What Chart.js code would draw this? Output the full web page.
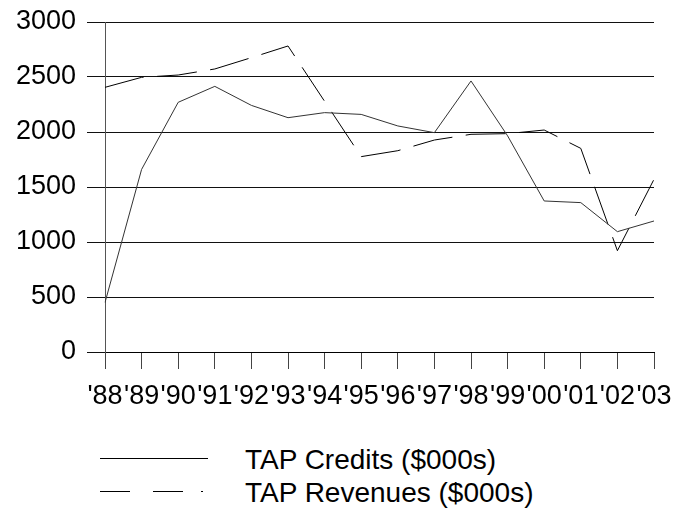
<!DOCTYPE html>
<html>
<head>
<meta charset="utf-8">
<script src="https://cdn.jsdelivr.net/npm/chart.js@4/dist/chart.umd.min.js"></script>
<style>
  html, body { margin: 0; padding: 0; background: #fff; }
  #wrap { position: relative; width: 675px; height: 513px; overflow: hidden; background: #fff; }
  #c { position: absolute; left: 0; top: 0; }
  .leg { position: absolute; left: 0; width: 675px; height: 30px; font-family: "Liberation Sans", Arial, sans-serif; font-size: 28px; line-height: 28px; color: #000; }
  .leg svg { position: absolute; left: 0; top: 0; }
  .leg span { position: absolute; left: 245px; top: 0; white-space: nowrap; }
</style>
</head>
<body>
<div id="wrap">
  <canvas id="c" width="675" height="420"></canvas>
  <div class="leg" style="top:446px">
    <svg width="675" height="30"><line x1="100" y1="12.5" x2="208" y2="12.5" stroke="#000" stroke-width="1"/></svg>
    <span id="lab0"></span>
  </div>
  <div class="leg" style="top:479px">
    <svg width="675" height="30"><line x1="100" y1="12.5" x2="203" y2="12.5" stroke="#000" stroke-width="1" stroke-dasharray="30 23 30 18 2 100"/></svg>
    <span id="lab1"></span>
  </div>
</div>
<script>
const years = ["'88","'89","'90","'91","'92","'93","'94","'95","'96","'97","'98","'99","'00","'01","'02","'03"];
const tapCredits = [450, 1660, 2270, 2415, 2242, 2130, 2176, 2160, 2055, 1994, 2464, 1965, 1373, 1358, 1094, 1191];
const tapRevenues = [2406, 2497, 2518, 2573, 2676, 2782, 2279, 1776, 1830, 1927, 1979, 1985, 2018, 1851, 921, 1570];
const seriesNames = ["TAP Credits ($000s)", "TAP Revenues ($000s)"];
const yMin = 0, yMax = 3000, yStep = 500;

document.getElementById('lab0').textContent = seriesNames[0];
document.getElementById('lab1').textContent = seriesNames[1];

const tickFont = { family: "'Liberation Sans', Arial, sans-serif", size: 27 };

new Chart(document.getElementById('c'), {
  type: 'line',
  data: {
    labels: years,
    datasets: [
      { label: seriesNames[0], data: tapCredits, borderColor: '#333', borderWidth: 1, pointRadius: 0, tension: 0, fill: false },
      { label: seriesNames[1], data: tapRevenues, borderColor: '#000', borderWidth: 1, borderDash: [40, 13.5], pointRadius: 0, tension: 0, fill: false }
    ]
  },
  options: {
    responsive: false,
    animation: false,
    events: [],
    layout: { padding: { top: 22, right: 21, left: 0, bottom: 0 } },
    plugins: { legend: { display: false }, title: { display: false }, tooltip: { enabled: false } },
    scales: {
      x: {
        offset: false,
        grid: { drawOnChartArea: false, drawTicks: true, tickLength: 17, color: '#444', lineWidth: 1 },
        border: { color: '#000', width: 1 },
        ticks: { autoSkip: false, maxRotation: 0, minRotation: 0, color: '#000', font: tickFont, padding: 11 },
        afterFit: (s) => { s.height = 68; s.paddingLeft = 0; s.paddingRight = 0; }
      },
      y: {
        min: yMin, max: yMax,
        grid: { color: '#111', lineWidth: 1, tickLength: 18, drawTicks: true },
        border: { color: '#555', width: 1 },
        ticks: { stepSize: yStep, color: '#000', font: tickFont, padding: 11, callback: (v) => String(v) },
        afterFit: (s) => { s.width = 105; s.paddingTop = 0; s.paddingBottom = 0; }
      }
    }
  }
});
</script>
</body>
</html>
